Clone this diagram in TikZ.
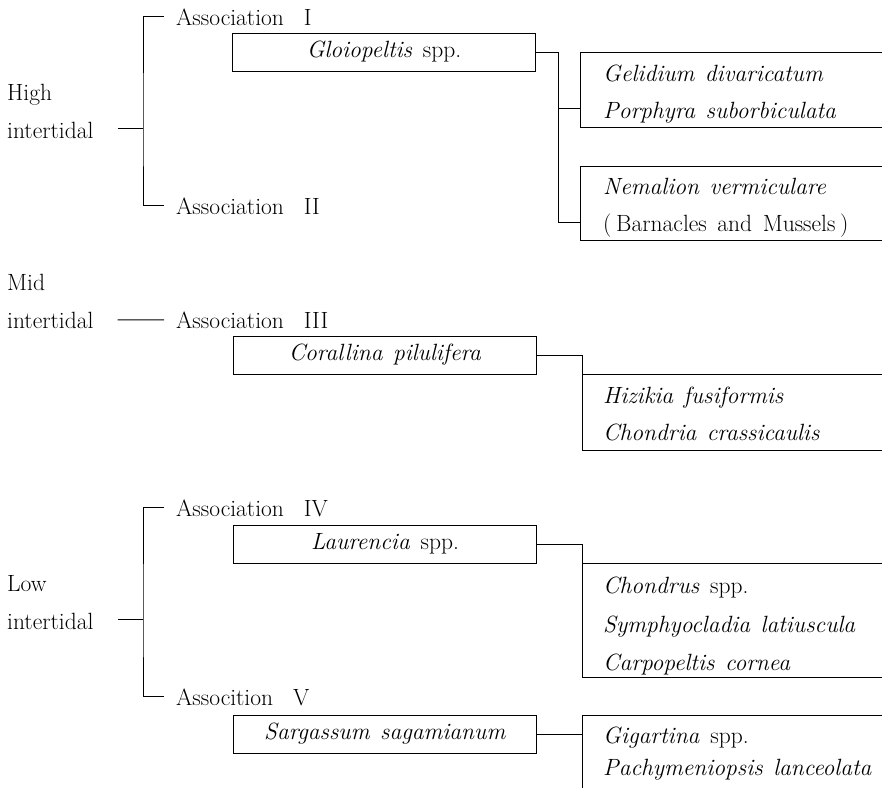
\documentclass[tikz,border=0pt]{standalone}
\usepackage{fontspec}
\usetikzlibrary{positioning}
\newcommand{\wsp}{\hspace{0.45em}}
\newcommand{\rsp}{\hspace{0.85em}}

\begin{document}
\begin{tikzpicture}[x=1pt,y=-1pt,font=\fontsize{23.5}{28}\selectfont,
  every node/.style={inner sep=0pt},
  lbl/.style={anchor=base west},
  taxon/.style={draw,line width=1pt,minimum width=303pt,minimum height=38pt},
  link/.style={line width=1pt}]
  \useasboundingbox (0,0) rectangle (882,788);
  % zones
  \node[lbl] (high) at (7,100) {High};
  \node[lbl] (hight) at (7,138) {intertidal};
  \node[lbl] (mid) at (7,290) {Mid};
  \node[lbl] (midt) at (7,328) {intertidal};
  \node[lbl] (low) at (7,591) {Low};
  \node[lbl] (lowt) at (7,629) {intertidal};
  % associations
  \node[lbl] (as1) at (176,25) {Association\rsp I};
  \node[lbl] (as2) at (176,214) {Association\rsp II};
  \node[lbl] (as3) at (176,328) {Association\rsp III};
  \node[lbl] (as4) at (176,516) {Association\rsp IV};
  \node[lbl] (as5) at (176,705) {Assocition\rsp V};
  % dominant taxa
  \node[taxon] (glo) at (384,52) {\textit{Gloiopeltis}\wsp spp.};
  \node[taxon] (cor) at (385,355) {\textit{Corallina\wsp pilulifera}};
  \node[taxon] (lau) at (385,544) {\textit{Laurencia}\wsp spp.};
  \node[taxon] (sar) at (385,734) {\textit{Sargassum\wsp sagamianum}};
  % accompanying taxa
  \node[lbl] (gel) at (603,81) {\textit{Gelidium\wsp divaricatum}};
  \node[lbl] (por) at (603,118) {\textit{Porphyra\wsp suborbiculata}};
  \node[lbl] (nem) at (603,194) {\textit{Nemalion\wsp vermiculare}};
  \node[lbl] (bar) at (603,231) {(\hspace{0.2em}Barnacles\wsp and\wsp Mussels\hspace{0.2em})};
  \node[lbl] (hiz) at (603,403) {\textit{Hizikia\wsp fusiformis}};
  \node[lbl] (cho) at (603,440) {\textit{Chondria\wsp crassicaulis}};
  \node[lbl] (chd) at (603,593) {\textit{Chondrus}\wsp spp.};
  \node[lbl] (sym) at (603,632) {\textit{Symphyocladia\wsp latiuscula}};
  \node[lbl] (car) at (603,670) {\textit{Carpopeltis\wsp cornea}};
  \node[lbl] (gig) at (603,743) {\textit{Gigartina}\wsp spp.};
  \node[lbl] (pac) at (603,775) {\textit{Pachymeniopsis\wsp lanceolata}};

  % brackets
  \coordinate (hb) at (143,128);
  \coordinate (lb) at (143,619);
  \draw[link] ([xshift=-12pt]as1.west) -| (hb) |- ([xshift=-12pt]as2.west);
  \draw[link] ([xshift=24pt]hight.east |- hb) -- (hb);
  \draw[link] ([xshift=24pt]midt.east) -- ([xshift=-12pt]as3.west);
  \draw[link] ([xshift=-12pt]as4.west) -| (lb) |- ([xshift=-12pt]as5.west);
  \draw[link] ([xshift=24pt]lowt.east |- lb) -- (lb);

  % high intertidal lists
  \coordinate (gelL) at (580,108);
  \coordinate (nemL) at (580,222);
  \draw[link] (glo.east) -| ([xshift=-22pt]nemL) -- (nemL);
  \draw[link] ([xshift=-22pt]gelL) -- (gelL);
  \draw[link] (882,52) -- (580,52) -- (580,127) -- (882,127);
  \draw[link] (882,166) -- (580,166) -- (580,240) -- (882,240);

  % mid intertidal list
  \draw[link] (cor.east) -| (582,450) -- (882,450);
  \draw[link] (582,374) -- (882,374);

  % low intertidal lists
  \draw[link] (lau.east) -| (582,677) -- (882,677);
  \draw[link] (582,563) -- (882,563);
  \draw[link] (sar.east) -- (582,734);
  \draw[link] (882,715) -- (582,715) -- (582,788);
\end{tikzpicture}
\end{document}
